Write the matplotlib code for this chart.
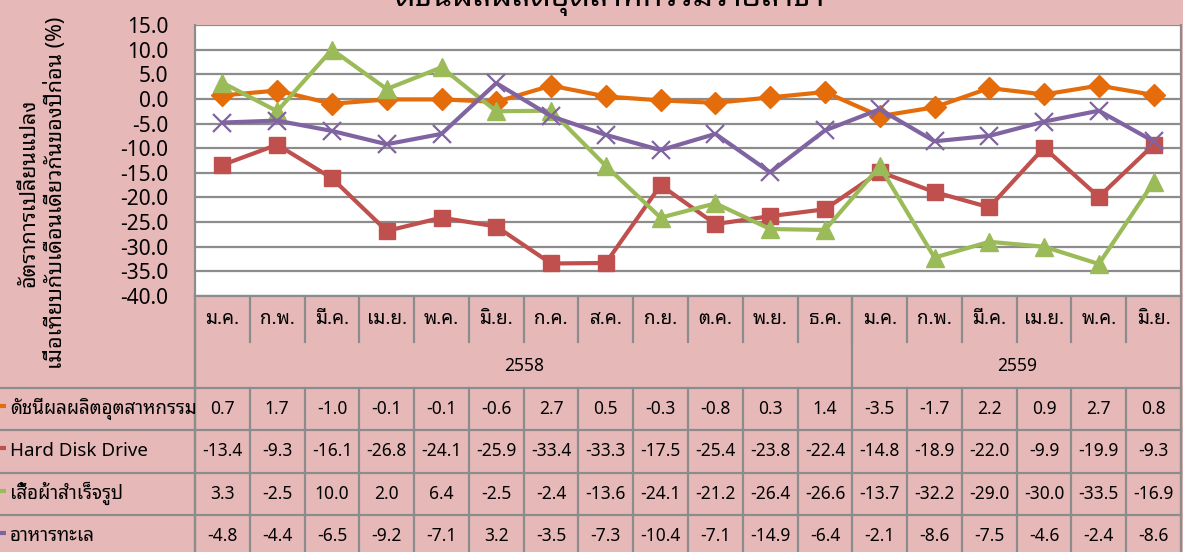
import matplotlib
matplotlib.use("Agg")
import matplotlib.pyplot as plt
from matplotlib import transforms

plt.rcParams['font.family'] = ['Noto Sans Thai Looped', 'DejaVu Sans']

months = ["ม.ค.", "ก.พ.", "มี.ค.", "เม.ย.", "พ.ค.", "มิ.ย.", "ก.ค.", "ส.ค.", "ก.ย.", "ต.ค.", "พ.ย.", "ธ.ค.",
          "ม.ค.", "ก.พ.", "มี.ค.", "เม.ย.", "พ.ค.", "มิ.ย."]
years = ["2558", "2559"]
year_counts = [12, 6]

series_names = ["ดัชนีผลผลิตอุตสาหกรรม", "Hard Disk Drive", "เสื้อผ้าสำเร็จรูป", "อาหารทะเล"]
industrial_index = [0.7, 1.7, -1.0, -0.1, -0.1, -0.6, 2.7, 0.5, -0.3, -0.8, 0.3, 1.4, -3.5, -1.7, 2.2, 0.9, 2.7, 0.8]
hard_disk = [-13.4, -9.3, -16.1, -26.8, -24.1, -25.9, -33.4, -33.3, -17.5, -25.4, -23.8, -22.4, -14.8, -18.9, -22.0, -9.9, -19.9, -9.3]
garments = [3.3, -2.5, 10.0, 2.0, 6.4, -2.5, -2.4, -13.6, -24.1, -21.2, -26.4, -26.6, -13.7, -32.2, -29.0, -30.0, -33.5, -16.9]
seafood = [-4.8, -4.4, -6.5, -9.2, -7.1, 3.2, -3.5, -7.3, -10.4, -7.1, -14.9, -6.4, -2.1, -8.6, -7.5, -4.6, -2.4, -8.6]
all_series = [industrial_index, hard_disk, garments, seafood]
yticks = [15, 10, 5, 0, -5, -10, -15, -20, -25, -30, -35, -40]

title = "ดัชนีผลผลิตอุตสาหกรรมรายสาขา"
ylabel = "อัตราการเปลี่ยนแปลง\nเมื่อเทียบกับเดือนเดียวกันของปีก่อน (%)"

colors = ["#E46C0A", "#C0504D", "#9BBB59", "#8064A2"]
markers = ["D", "s", "^", "x"]
msizes = [11, 11, 13, 13]
bg = "#E6B9B8"
gridc = "#8C8C8C"
numfont = ['Noto Sans', 'DejaVu Sans']

W, H = 1183, 552
fig = plt.figure(figsize=(W / 100, H / 100), dpi=100, facecolor=bg)

ov = fig.add_axes([0, 0, 1, 1], zorder=0)
ov.set_xlim(0, W)
ov.set_ylim(H, 0)
ov.axis("off")

L, R, T, B = 195, 1181, 25, 296
ax = fig.add_axes([L / W, 1 - B / H, (R - L) / W, (B - T) / H], zorder=2)
ax.set_facecolor("white")
n = len(months)
x = list(range(n))
ax.set_xlim(-0.5, n - 0.5)
ax.set_ylim(-40, 15)
ax.set_yticks(yticks)
ax.set_yticklabels([f"{v:.1f}" for v in yticks], fontsize=15, family=numfont, fontweight=500)
ax.tick_params(axis='y', length=0, pad=19)
ax.set_xticks([])
ax.yaxis.grid(True, color=gridc, lw=1.6)
ax.set_axisbelow(True)
ax.spines["top"].set_visible(False)
for s in ["left", "right", "bottom"]:
    ax.spines[s].set_color(gridc)
    ax.spines[s].set_linewidth(1.6)

for vals, c, m, ms in zip(all_series, colors, markers, msizes):
    if m == "x":
        ax.plot(x, vals, color=c, lw=3, marker=m, ms=ms, mew=1.6, mfc=c, mec=c, clip_on=False)
    else:
        ax.plot(x, vals, color=c, lw=3, marker=m, ms=ms, mec=c, mfc=c, clip_on=False)

# title (top clipped as in the reference)
ov.text(610, 6, title, ha="center", va="baseline", fontsize=23, fontweight="bold")

# y label
ov.text(43, 193, ylabel, rotation=90, ha="center", va="center", fontsize=15.5, linespacing=1.35, fontweight=500)

# table
tr = transforms.blended_transform_factory(ax.transData, ov.transData)
lw = 1.6
month_bot = 342
year_bot = 388
row_h = 42.3
rows_top = [year_bot + i * row_h for i in range(len(series_names))]

for i, mth in enumerate(months):
    ov.text(i, 319, mth, transform=tr, ha="center", va="center", fontsize=13.5, fontweight=500)
for i in range(1, n):
    ov.plot([i - 0.5, i - 0.5], [B, month_bot], transform=tr, color=gridc, lw=lw)
start = 0
for yr, cnt in zip(years, year_counts):
    ov.text(start + cnt / 2 - 0.5, 366, yr, transform=tr, ha="center", va="center", fontsize=12.5, family=numfont, fontweight=500)
    ov.plot([start - 0.5, start - 0.5], [B, year_bot], transform=tr, color=gridc, lw=lw)
    start += cnt
ov.plot([n - 0.5, n - 0.5], [B, H], transform=tr, color=gridc, lw=lw)
ov.plot([L, L], [B, H], color=gridc, lw=lw)

for r, (name, vals, c) in enumerate(zip(series_names, all_series, colors)):
    top = rows_top[r]
    cy = top + row_h / 2
    ov.plot([0, R], [top, top], color=gridc, lw=lw)
    ov.plot([0, 6], [cy - 3, cy - 3], color=c, lw=3, solid_capstyle="butt")
    ov.text(10, cy, name, ha="left", va="center", fontsize=13.5, fontweight=500)
    for i, v in enumerate(vals):
        ov.text(i, cy, f"{v:.1f}", transform=tr, ha="center", va="center", fontsize=12.5, family=numfont, fontweight=500)
    for i in range(0, n + 1):
        ov.plot([i - 0.5, i - 0.5], [top, top + row_h], transform=tr, color=gridc, lw=lw)
ov.plot([0, R], [rows_top[-1] + row_h, rows_top[-1] + row_h], color=gridc, lw=lw)

fig.savefig("out.png", dpi=100, facecolor=bg)
